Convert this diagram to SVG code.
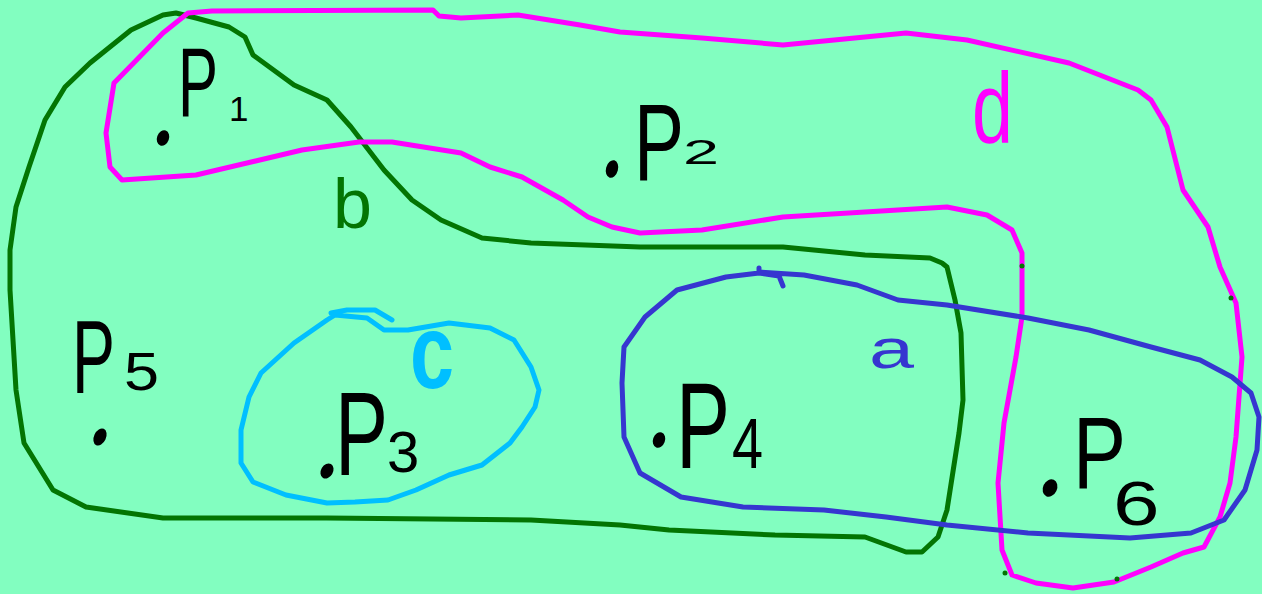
<svg xmlns="http://www.w3.org/2000/svg" width="1262" height="594" viewBox="0 0 1262 594">
<style>
.edge{fill:none;stroke-width:5;stroke-linejoin:round;stroke-linecap:round}
.lbl{font-family:"Liberation Sans",Arial,sans-serif;fill:#000}
.dot{fill:#000}
</style>
<rect width="1262" height="594" fill="#82FEC0"/>
<g id="connectors">
<path id="edge-b" class="edge" stroke="#037503" d="M163,15 L176,13 L196,18 L229,27 L245,37 L253,55 L294,85 L327,100 L351,127 L384,170 L412,200 L441,220 L482,238 L531,243 L640,247 L783,247 L865,255 L930,258 L942,263 L947,267 L955,300 L961,333 L963,400 L959,433 L947,510 L938,537 L922,552 L906,552 L865,537 L775,535 L669,530 L620,525 L531,520 L327,518 L163,518 L86,507 L53,490 L24,443 L16,390 L10,290 L10,250 L16,207 L29,167 L45,120 L65,87 L90,63 L131,30 Z"/>
<path id="edge-d" class="edge" stroke="#FF00FF" d="M188,13 L212,11 L433,10 L439,16 L461,18 L518,15 L580,25 L620,32 L702,38 L783,45 L906,33 L967,40 L1069,63 L1138,90 L1151,100 L1167,127 L1183,190 L1208,227 L1220,267 L1236,303 L1242,357 L1236,437 L1230,483 L1220,517 L1204,547 L1183,553 L1151,567 L1114,582 L1073,588 L1036,583 L1012,575 L1002,550 L998,483 L1004,423 L1016,357 L1022,317 L1022,253 L1012,230 L987,215 L947,207 L865,212 L783,217 L702,230 L640,233 L612,227 L588,217 L563,200 L522,177 L490,167 L461,153 L392,142 L359,142 L302,150 L196,175 L122,180 L110,167 L106,133 L114,83 L163,33 Z"/>
<path id="edge-a" class="edge" stroke="#3636D0" d="M759,268 L759,272 L804,275 L857,285 L898,300 L947,305 L1028,318 L1089,330 L1151,347 L1200,360 L1232,377 L1251,393 L1259,417 L1257,450 L1245,490 L1224,520 L1191,533 L1130,538 L1028,533 L947,525 L886,517 L824,510 L743,507 L681,497 L640,473 L624,437 L622,383 L624,347 L645,317 L677,290 L726,277 L759,273 L779,276 L783,286"/>
<path id="edge-c" class="edge" stroke="#00BFFF" d="M392,320 L375,310 L347,310 L331,313 M335,315 L367,318 L384,330 L408,330 L449,323 L490,328 L514,340 L531,367 L539,390 L535,407 L522,427 L510,443 L482,465 L449,475 L416,490 L388,500 L355,502 L327,503 L286,495 L253,482 L241,463 L241,430 L249,397 L261,373 L294,343 L327,320 Z"/>
<g fill="#037503">
<circle cx="1022" cy="266" r="2.5"/><circle cx="1231" cy="298" r="2.5"/><circle cx="1005" cy="573" r="2.5"/><circle cx="1117" cy="579" r="2.5"/>
</g>
</g>
<g id="label-a"><text class="lbl" transform="translate(869 368) scale(1.445 1)" font-size="56" style="fill:#3636D0">a</text></g>
<g id="label-b"><text class="lbl" x="333" y="228" font-size="70" style="fill:#037503">b</text></g>
<g id="label-c"><text class="lbl" transform="translate(410 388) scale(0.754 1)" font-size="105" font-weight="bold" style="fill:#00BFFF">c</text></g>
<g id="label-d"><text class="lbl" transform="translate(972 143) scale(0.737 1)" font-size="100" style="fill:#FF00FF">d</text></g>
<g id="node-p1">
<ellipse class="dot" cx="163" cy="138" rx="6" ry="8" transform="rotate(20 163 138)"/>
<text class="lbl" transform="translate(178 116) scale(0.612 1)" font-size="98">P</text>
<text class="lbl" x="229" y="121" font-size="35">1</text>
</g>
<g id="node-p2">
<ellipse class="dot" cx="612" cy="169" rx="6" ry="9" transform="rotate(15 612 169)"/>
<text class="lbl" transform="translate(634 180) scale(0.681 1)" font-size="110">P</text>
<text class="lbl" transform="translate(683 164) scale(1.8 1)" font-size="36">2</text>
</g>
<g id="node-p3">
<ellipse class="dot" cx="327" cy="471" rx="6" ry="8" transform="rotate(30 327 471)"/>
<text class="lbl" transform="translate(335 475) scale(0.673 1)" font-size="118">P</text>
<text class="lbl" x="387" y="472" font-size="58">3</text>
</g>
<g id="node-p4">
<ellipse class="dot" cx="659" cy="440" rx="6" ry="8" transform="rotate(20 659 440)"/>
<text class="lbl" transform="translate(676 468) scale(0.664 1)" font-size="122">P</text>
<text class="lbl" transform="translate(732 468) scale(0.797 1)" font-size="70">4</text>
</g>
<g id="node-p5">
<ellipse class="dot" cx="100" cy="437" rx="6" ry="9" transform="rotate(25 100 437)"/>
<text class="lbl" transform="translate(72 393) scale(0.626 1)" font-size="103">P</text>
<text class="lbl" transform="translate(124 390) scale(1.188 1)" font-size="53">5</text>
</g>
<g id="node-p6">
<ellipse class="dot" cx="1050" cy="488" rx="7" ry="9" transform="rotate(25 1050 488)"/>
<text class="lbl" transform="translate(1073 488) scale(0.779 1)" font-size="102">P</text>
<text class="lbl" transform="translate(1113 525) scale(1.33 1)" font-size="63">6</text>
</g>
</svg>
